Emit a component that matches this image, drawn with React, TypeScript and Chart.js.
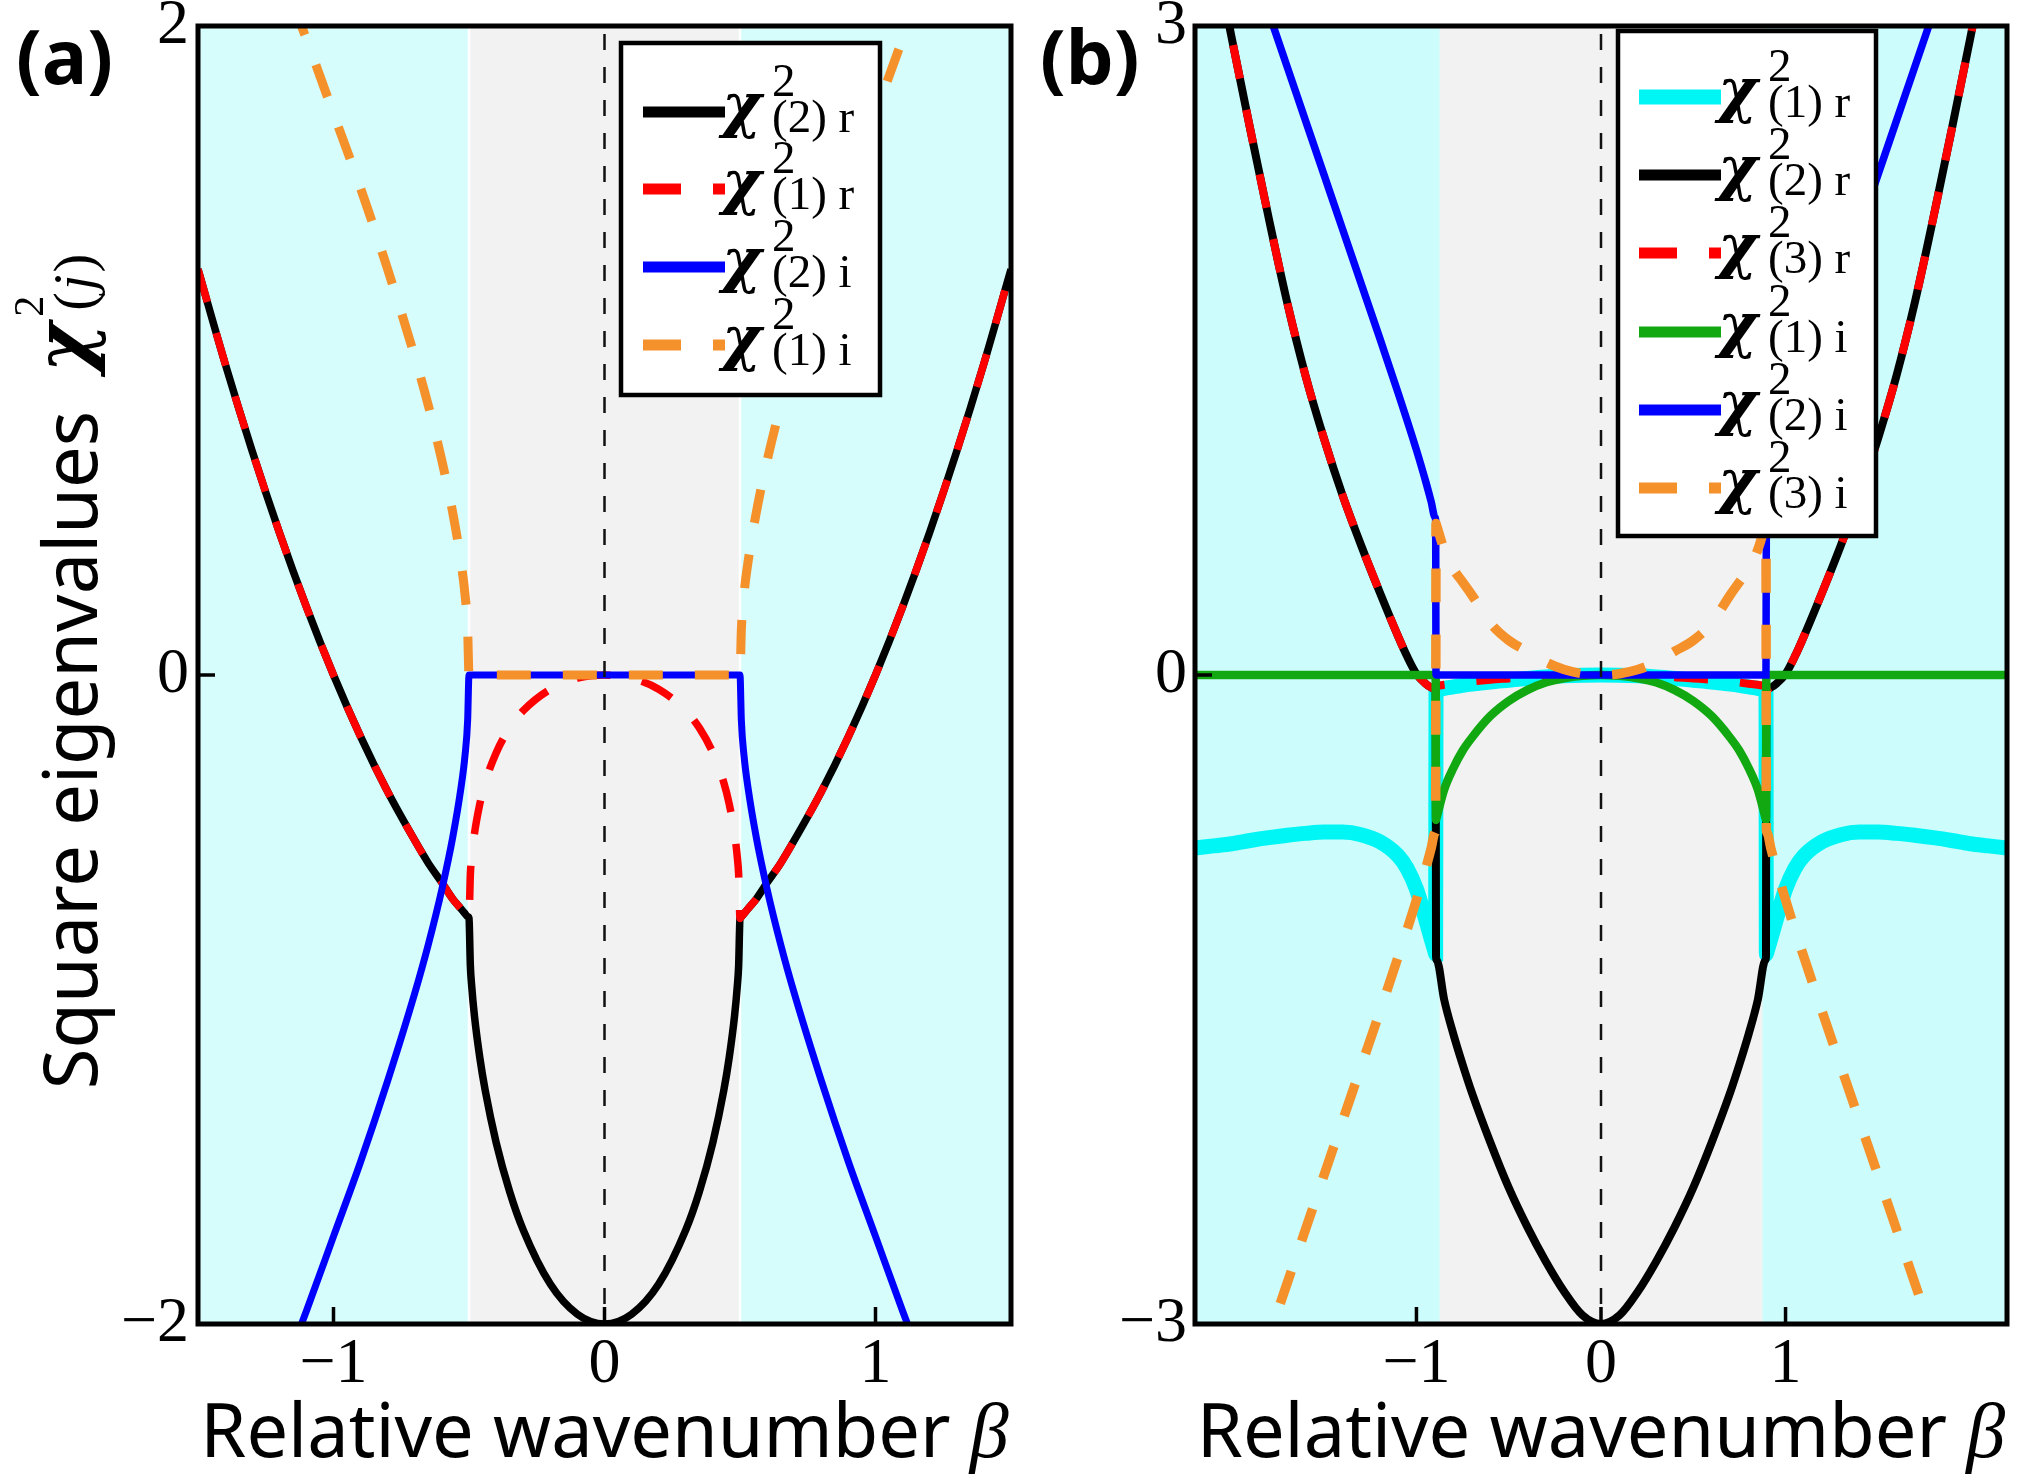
import React, { useEffect, useRef } from 'react';
import { Chart, registerables } from 'chart.js';

Chart.register(...registerables);

// ---------------- Panel (a) data ----------------
const betaA = [
  -1.5, -1.4, -1.3, -1.2, -1.1, -1.0, -0.9, -0.8, -0.7, -0.65, -0.6, -0.56, -0.53, -0.515, -0.505, -0.5,
  -0.495, -0.49, -0.48, -0.46, -0.44, -0.4, -0.35, -0.3, -0.2, -0.1, 0, 0.1, 0.2, 0.3, 0.35, 0.4, 0.44, 0.46, 0.48, 0.49, 0.495,
  0.5, 0.505, 0.515, 0.53, 0.56, 0.6, 0.65, 0.7, 0.8, 0.9, 1.0, 1.1, 1.2, 1.3, 1.4, 1.5,
];
const aChi2r = [
  1.25, 0.96, 0.69, 0.44, 0.21, 0.0, -0.19, -0.36, -0.51, -0.58, -0.64, -0.69, -0.72, -0.735, -0.745, -0.75,
  -0.896, -0.959, -1.05, -1.18, -1.281, -1.44, -1.592, -1.71, -1.877, -1.97, -2.0, -1.97, -1.877, -1.71, -1.592, -1.44, -1.281, -1.18, -1.05, -0.959, -0.896,
  -0.75, -0.745, -0.735, -0.72, -0.69, -0.64, -0.58, -0.51, -0.36, -0.19, 0.0, 0.21, 0.44, 0.69, 0.96, 1.25,
];
const aChi1r = [
  1.25, 0.96, 0.69, 0.44, 0.21, 0.0, -0.19, -0.36, -0.51, -0.58, -0.64, -0.69, -0.72, -0.735, -0.745, -0.75,
  -0.614, -0.561, -0.49, -0.397, -0.331, -0.24, -0.163, -0.11, -0.044, -0.01, 0, -0.01, -0.044, -0.11, -0.163, -0.24, -0.331, -0.397, -0.49, -0.561, -0.614,
  -0.75, -0.745, -0.735, -0.72, -0.69, -0.64, -0.58, -0.51, -0.36, -0.19, 0.0, 0.21, 0.44, 0.69, 0.96, 1.25,
];
const aChi2i = [
  -2.83, -2.62, -2.4, -2.18, -1.96, -1.73, -1.5, -1.25, -0.98, -0.83, -0.66, -0.5, -0.35, -0.25, -0.14, 0,
  0, 0, 0, 0, 0, 0, 0, 0, 0, 0, 0, 0, 0, 0, 0, 0, 0, 0, 0, 0, 0,
  0, -0.14, -0.25, -0.35, -0.5, -0.66, -0.83, -0.98, -1.25, -1.5, -1.73, -1.96, -2.18, -2.4, -2.62, -2.83,
];
const aChi1i = [
  2.83, 2.62, 2.4, 2.18, 1.96, 1.73, 1.5, 1.25, 0.98, 0.83, 0.66, 0.5, 0.35, 0.25, 0.14, 0,
  0, 0, 0, 0, 0, 0, 0, 0, 0, 0, 0, 0, 0, 0, 0, 0, 0, 0, 0, 0, 0,
  0, 0.14, 0.25, 0.35, 0.5, 0.66, 0.83, 0.98, 1.25, 1.5, 1.73, 1.96, 2.18, 2.4, 2.62, 2.83,
];
const aXTicks = [-1, 0, 1];
const aXTickLabels = ['\u22121', '0', '1'];
const aYTicks = [-2, 0, 2];
const aYTickLabels = ['\u22122', '0', '2'];
const aEdges = [-0.5, 0.5];

// ---------------- Panel (b) data ----------------
const betaB = [
  -2.2, -2.1, -2.0, -1.9, -1.8, -1.7, -1.6, -1.5, -1.4, -1.3, -1.2, -1.1, -1.05, -1.0, -0.95, -0.92, -0.9, -0.896,
  -0.894, -0.89, -0.85, -0.8, -0.75, -0.7, -0.6, -0.5, -0.4, -0.3, -0.2, -0.1, 0, 0.1, 0.2, 0.3, 0.4, 0.5, 0.6, 0.7, 0.75, 0.8, 0.85, 0.89, 0.894,
  0.896, 0.9, 0.92, 0.95, 1.0, 1.05, 1.1, 1.2, 1.3, 1.4, 1.5, 1.6, 1.7, 1.8, 1.9, 2.0, 2.1, 2.2,
];
const bChi1r = [
  -0.8, -0.79, -0.78, -0.765, -0.752, -0.741, -0.732, -0.726, -0.726, -0.738, -0.77, -0.835, -0.895, -0.99, -1.13, -1.22, -1.278, -1.29,
  -0.07, -0.069, -0.062, -0.055, -0.048, -0.042, -0.032, -0.024, -0.016, -0.009, -0.004, -0.001, 0, -0.001, -0.004, -0.009, -0.016, -0.024, -0.032, -0.042, -0.048, -0.055, -0.062, -0.069, -0.07,
  -1.29, -1.278, -1.22, -1.13, -0.99, -0.895, -0.835, -0.77, -0.738, -0.726, -0.726, -0.732, -0.741, -0.752, -0.765, -0.78, -0.79, -0.8,
];
const bChi2r = [
  3.81, 3.37, 2.94, 2.52, 2.11, 1.72, 1.38, 1.09, 0.83, 0.6, 0.385, 0.18, 0.085, 0.005, -0.04, -0.058, -0.064, -0.065,
  -1.3, -1.318, -1.5, -1.66, -1.8, -1.93, -2.16, -2.37, -2.55, -2.71, -2.85, -2.96, -3.0, -2.96, -2.85, -2.71, -2.55, -2.37, -2.16, -1.93, -1.8, -1.66, -1.5, -1.318, -1.3,
  -0.065, -0.064, -0.058, -0.04, 0.005, 0.085, 0.18, 0.385, 0.6, 0.83, 1.09, 1.38, 1.72, 2.11, 2.52, 2.94, 3.37, 3.81,
];
const bChi3r = [
  3.81, 3.37, 2.94, 2.52, 2.11, 1.72, 1.38, 1.09, 0.83, 0.6, 0.385, 0.18, 0.085, 0.005, -0.04, -0.058, -0.064, -0.065,
  -0.05, -0.05, -0.045, -0.04, -0.035, -0.03, -0.022, -0.016, -0.01, -0.006, -0.003, -0.001, 0, -0.001, -0.003, -0.006, -0.01, -0.016, -0.022, -0.03, -0.035, -0.04, -0.045, -0.05, -0.05,
  -0.065, -0.064, -0.058, -0.04, 0.005, 0.085, 0.18, 0.385, 0.6, 0.83, 1.09, 1.38, 1.72, 2.11, 2.52, 2.94, 3.37, 3.81,
];
const bChi1i = [
  0, 0, 0, 0, 0, 0, 0, 0, 0, 0, 0, 0, 0, 0, 0, 0, 0, 0,
  -0.67, -0.657, -0.53, -0.43, -0.35, -0.29, -0.19, -0.12, -0.07, -0.035, -0.015, -0.004, 0, -0.004, -0.015, -0.035, -0.07, -0.12, -0.19, -0.29, -0.35, -0.43, -0.53, -0.657, -0.67,
  0, 0, 0, 0, 0, 0, 0, 0, 0, 0, 0, 0, 0, 0, 0, 0, 0, 0,
];
const bChi2i = [
  4.06, 3.81, 3.56, 3.31, 3.06, 2.81, 2.56, 2.31, 2.06, 1.81, 1.56, 1.305, 1.175, 1.04, 0.895, 0.8, 0.73, 0.716,
  0, 0, 0, 0, 0, 0, 0, 0, 0, 0, 0, 0, 0, 0, 0, 0, 0, 0, 0, 0, 0, 0, 0, 0, 0,
  0.716, 0.73, 0.8, 0.895, 1.04, 1.175, 1.305, 1.56, 1.81, 2.06, 2.31, 2.56, 2.81, 3.06, 3.31, 3.56, 3.81, 4.06,
];
const bChi3i = [
  -4.06, -3.81, -3.56, -3.31, -3.06, -2.81, -2.56, -2.31, -2.06, -1.81, -1.56, -1.305, -1.175, -1.04, -0.895, -0.8, -0.73, -0.716,
  0.7, 0.689, 0.58, 0.49, 0.43, 0.37, 0.24, 0.16, 0.11, 0.06, 0.025, 0.006, 0, 0.006, 0.025, 0.06, 0.11, 0.16, 0.24, 0.37, 0.43, 0.49, 0.58, 0.689, 0.7,
  -0.716, -0.73, -0.8, -0.895, -1.04, -1.175, -1.305, -1.56, -1.81, -2.06, -2.31, -2.56, -2.81, -3.06, -3.31, -3.56, -3.81, -4.06,
];
const bXTicks = [-1, 0, 1];
const bXTickLabels = ['\u22121', '0', '1'];
const bYTicks = [-3, 0, 3];
const bYTickLabels = ['\u22123', '0', '3'];
const bEdges = [-0.875, 0.875];

// ---------------- styling / layout ----------------
const W = 2026;
const H = 1482;
const FRAME_TOP = 26;
const FRAME_BOTTOM = 1324;
const SERIF = '"Liberation Serif", "Times New Roman", serif';
const GREEK = '"DejaVu Serif", "Liberation Serif", serif';
const SANS = '"Noto Sans", "Open Sans", sans-serif';
const DASH = [34, 32];

const BLACK = '#000000';
const RED = '#ff0000';
const BLUE = '#0000ff';
const ORANGE = '#f5912a';
const GREEN = '#12a812';
const CYAN = '#00f5f5';

type Series = { data: { x: number; y: number }[]; color: string; width: number; dashed: boolean };
type Entry = { color: string; width: number; dashed: boolean; sub: string };
interface Panel {
  key: string;
  left: number;
  width: number;
  axisWidth: number;
  padRight: number;
  xMin: number; xMax: number; yMin: number; yMax: number;
  xTicks: number[]; xTickLabels: string[];
  yTicks: number[]; yTickLabels: string[];
  yTickPad: number;
  edges: number[];
  sideColor: string;
  edgeLines: boolean;
  label: string; labelX: number;
  legendBox: number[]; legendRows: number[]; legendLine: number[]; legendChiX: number;
  entries: Entry[];
  yTitle: boolean;
  series: Series[];
}

const pts = (xs: number[], ys: number[]) => xs.map((x, i) => ({ x, y: ys[i] }));

const panelA: Panel = {
  key: 'a', left: 0, width: 1030, axisWidth: 198, padRight: 19,
  xMin: -1.5, xMax: 1.5, yMin: -2, yMax: 2,
  xTicks: aXTicks, xTickLabels: aXTickLabels, yTicks: aYTicks, yTickLabels: aYTickLabels,
  yTickPad: 9,
  edges: aEdges, sideColor: '#d6fcfc', edgeLines: true,
  label: '(a)', labelX: 16,
  legendBox: [621, 43, 880, 395], legendRows: [112, 189, 267, 345], legendLine: [643, 725], legendChiX: 722,
  entries: [
    { color: BLACK, width: 11, dashed: false, sub: '(2) r' },
    { color: RED, width: 11, dashed: true, sub: '(1) r' },
    { color: BLUE, width: 11, dashed: false, sub: '(2) i' },
    { color: ORANGE, width: 11, dashed: true, sub: '(1) i' },
  ],
  yTitle: true,
  series: [
    { data: pts(betaA, aChi2r), color: BLACK, width: 7.5, dashed: false },
    { data: pts(betaA, aChi1r), color: RED, width: 7.5, dashed: true },
    { data: pts(betaA, aChi2i), color: BLUE, width: 7, dashed: false },
    { data: pts(betaA, aChi1i), color: ORANGE, width: 9, dashed: true },
  ],
};

const panelB: Panel = {
  key: 'b', left: 1030, width: 996, axisWidth: 165, padRight: 19,
  xMin: -2.2, xMax: 2.2, yMin: -3, yMax: 3,
  xTicks: bXTicks, xTickLabels: bXTickLabels, yTicks: bYTicks, yTickLabels: bYTickLabels,
  yTickPad: 8,
  edges: bEdges, sideColor: '#ccfcfc', edgeLines: false,
  label: '(b)', labelX: 1040,
  legendBox: [1618, 31, 1876, 536], legendRows: [97, 175, 253, 332, 410, 488], legendLine: [1639, 1721], legendChiX: 1718,
  entries: [
    { color: CYAN, width: 15, dashed: false, sub: '(1) r' },
    { color: BLACK, width: 11, dashed: false, sub: '(2) r' },
    { color: RED, width: 11, dashed: true, sub: '(3) r' },
    { color: GREEN, width: 11, dashed: false, sub: '(1) i' },
    { color: BLUE, width: 11, dashed: false, sub: '(2) i' },
    { color: ORANGE, width: 11, dashed: true, sub: '(3) i' },
  ],
  yTitle: false,
  series: [
    { data: pts(betaB, bChi1r), color: CYAN, width: 15, dashed: false },
    { data: pts(betaB, bChi2r), color: BLACK, width: 8, dashed: false },
    { data: pts(betaB, bChi3r), color: RED, width: 8, dashed: true },
    { data: pts(betaB, bChi1i), color: GREEN, width: 8.5, dashed: false },
    { data: pts(betaB, bChi2i), color: BLUE, width: 7.5, dashed: false },
    { data: pts(betaB, bChi3i), color: ORANGE, width: 9.5, dashed: true },
  ],
};

function labelFor(ticks: number[], labels: string[], v: number) {
  const i = ticks.findIndex((t) => Math.abs(t - v) < 1e-9);
  return i >= 0 ? labels[i] : '';
}

function drawChi(ctx: CanvasRenderingContext2D, x: number, y: number, size: number) {
  ctx.save();
  ctx.font = `italic bold ${size}px ${GREEK}`;
  ctx.fillStyle = '#000';
  ctx.textAlign = 'left';
  ctx.textBaseline = 'alphabetic';
  ctx.fillText('\u03C7', x, y);
  ctx.restore();
}

function drawLegend(ctx: CanvasRenderingContext2D, p: Panel) {
  const ox = p.left;
  const [bx0, by0, bx1, by1] = p.legendBox;
  ctx.save();
  ctx.setLineDash([]);
  ctx.fillStyle = '#ffffff';
  ctx.fillRect(bx0 - ox, by0, bx1 - bx0, by1 - by0);
  ctx.lineWidth = 4.5;
  ctx.strokeStyle = '#000';
  ctx.strokeRect(bx0 - ox, by0, bx1 - bx0, by1 - by0);
  p.entries.forEach((e, i) => {
    const y = p.legendRows[i];
    ctx.beginPath();
    ctx.strokeStyle = e.color;
    ctx.lineWidth = e.width;
    ctx.lineCap = 'butt';
    ctx.setLineDash(e.dashed ? [38, 32] : []);
    ctx.moveTo(p.legendLine[0] - ox, y);
    ctx.lineTo(p.legendLine[1] - ox, y);
    ctx.stroke();
    ctx.setLineDash([]);
    const cx = p.legendChiX - ox;
    drawChi(ctx, cx, y + 14, 60);
    ctx.fillStyle = '#000';
    ctx.textAlign = 'left';
    ctx.textBaseline = 'alphabetic';
    ctx.font = `47px ${SERIF}`;
    ctx.fillText('2', cx + 50, y - 16);
    ctx.fillText(e.sub, cx + 50, y + 20);
  });
  ctx.restore();
}

function drawYTitle(ctx: CanvasRenderingContext2D) {
  ctx.save();
  ctx.fillStyle = '#000';
  ctx.textAlign = 'left';
  ctx.textBaseline = 'alphabetic';
  const t = 'Square eigenvalues';
  ctx.font = `74px ${SANS}`;
  const w = ctx.measureText(t).width;
  const gap = 38;
  const total = w + gap + 118;
  const start = 672 + total / 2;
  ctx.translate(97, start);
  ctx.rotate(-Math.PI / 2);
  ctx.fillText(t, 0, 0);
  const cx = w + gap;
  drawChi(ctx, cx, -8, 76);
  ctx.fillStyle = '#000';
  ctx.font = `42px ${SERIF}`;
  ctx.fillText('2', cx + 56, -54);
  ctx.font = `56px ${SERIF}`;
  let x = cx + 62;
  ctx.fillText('(', x, -4);
  x += ctx.measureText('(').width;
  ctx.font = `italic 56px ${SERIF}`;
  ctx.fillText('j', x + 2, -4);
  x += ctx.measureText('j').width + 4;
  ctx.font = `56px ${SERIF}`;
  ctx.fillText(')', x, -4);
  ctx.restore();
}

function drawXTitle(ctx: CanvasRenderingContext2D, cx: number) {
  ctx.save();
  ctx.fillStyle = '#000';
  ctx.textAlign = 'left';
  ctx.textBaseline = 'alphabetic';
  const t = 'Relative wavenumber ';
  ctx.font = `74px ${SANS}`;
  const w1 = ctx.measureText(t).width;
  ctx.font = `italic 78px ${SERIF}`;
  const w2 = ctx.measureText('\u03B2').width;
  const x0 = cx - (w1 + w2) / 2;
  ctx.font = `74px ${SANS}`;
  ctx.fillText(t, x0, 1457);
  ctx.font = `italic 78px ${SERIF}`;
  ctx.fillText('\u03B2', x0 + w1, 1457);
  ctx.restore();
}

function makePlugin(p: Panel) {
  return {
    id: 'panelDecor' + p.key,
    beforeDatasetsDraw(chart: any) {
      const { ctx, chartArea: a, scales } = chart;
      const xs = scales.x;
      ctx.save();
      ctx.beginPath();
      ctx.rect(a.left, a.top, a.right - a.left, a.bottom - a.top);
      ctx.clip();
      ctx.fillStyle = p.sideColor;
      ctx.fillRect(a.left, a.top, a.right - a.left, a.bottom - a.top);
      const e0 = xs.getPixelForValue(p.edges[0]);
      const e1 = xs.getPixelForValue(p.edges[1]);
      ctx.fillStyle = '#f2f2f2';
      ctx.fillRect(e0, a.top, e1 - e0, a.bottom - a.top);
      if (p.edgeLines) {
        ctx.strokeStyle = '#ffffff';
        ctx.lineWidth = 2.5;
        [e0, e1].forEach((e) => {
          ctx.beginPath();
          ctx.moveTo(e, a.top);
          ctx.lineTo(e, a.bottom);
          ctx.stroke();
        });
      }
      ctx.restore();
    },
    afterDatasetsDraw(chart: any) {
      const { ctx, chartArea: a, scales } = chart;
      const x0 = scales.x.getPixelForValue(0);
      ctx.save();
      ctx.strokeStyle = '#111';
      ctx.lineWidth = 2.5;
      ctx.setLineDash([16, 17]);
      ctx.beginPath();
      ctx.moveTo(x0, a.top + 8);
      ctx.lineTo(x0, a.bottom);
      ctx.stroke();
      ctx.restore();
    },
    afterDraw(chart: any) {
      const { ctx, chartArea: a, scales } = chart;
      ctx.save();
      ctx.setLineDash([]);
      ctx.strokeStyle = '#000';
      ctx.lineWidth = 3.5;
      p.xTicks.forEach((v) => {
        const px = scales.x.getPixelForValue(v);
        ctx.beginPath();
        ctx.moveTo(px, a.bottom);
        ctx.lineTo(px, a.bottom - 17);
        ctx.stroke();
      });
      p.yTicks.forEach((v) => {
        const py = scales.y.getPixelForValue(v);
        ctx.beginPath();
        ctx.moveTo(a.left, py);
        ctx.lineTo(a.left + 17, py);
        ctx.stroke();
      });
      ctx.lineWidth = 5;
      ctx.strokeRect(a.left, a.top, a.right - a.left, a.bottom - a.top);
      ctx.restore();
      drawLegend(ctx, p);
      ctx.save();
      ctx.fillStyle = '#000';
      ctx.textAlign = 'left';
      ctx.textBaseline = 'alphabetic';
      ctx.font = `bold 76px ${SANS}`;
      ctx.fillText(p.label, p.labelX - p.left, 84);
      ctx.restore();
      drawXTitle(ctx, (a.left + a.right) / 2);
      if (p.yTitle) drawYTitle(ctx);
    },
  };
}

function PanelChart({ p }: { p: Panel }) {
  const ref = useRef<HTMLCanvasElement>(null);
  useEffect(() => {
    const canvas = ref.current;
    if (!canvas) return;
    const N = p.series.length;
    let alive = true;
    const chart = new Chart(canvas, {
      type: 'line',
      data: {
        datasets: p.series.map((s, i) => ({
          data: s.data,
          borderColor: s.color,
          backgroundColor: s.color,
          borderWidth: s.width,
          borderDash: s.dashed ? DASH : [],
          pointRadius: 0,
          pointHoverRadius: 0,
          fill: false,
          cubicInterpolationMode: 'monotone',
          clip: 0,
          order: N - i,
        })) as any,
      },
      options: {
        animation: false,
        responsive: false,
        maintainAspectRatio: false,
        devicePixelRatio: 1,
        events: [],
        layout: { padding: { left: 0, right: p.padRight, top: FRAME_TOP, bottom: 0 }, autoPadding: false },
        plugins: { legend: { display: false }, tooltip: { enabled: false }, title: { display: false } },
        scales: {
          x: {
            type: 'linear',
            min: p.xMin,
            max: p.xMax,
            grid: { display: false, drawTicks: false },
            border: { display: false },
            ticks: {
              autoSkip: false,
              maxRotation: 0,
              padding: 3,
              color: '#000',
              font: { family: SERIF, size: 64, lineHeight: 1.2 },
              callback: (v: any) => labelFor(p.xTicks, p.xTickLabels, Number(v)),
            },
            afterBuildTicks: (s: any) => { s.ticks = p.xTicks.map((v) => ({ value: v })); },
            afterFit: (s: any) => { s.height = H - FRAME_BOTTOM; s.paddingLeft = 0; s.paddingRight = 0; },
          },
          y: {
            type: 'linear',
            min: p.yMin,
            max: p.yMax,
            grid: { display: false, drawTicks: false },
            border: { display: false },
            ticks: {
              autoSkip: false,
              padding: p.yTickPad,
              color: '#000',
              font: { family: SERIF, size: 64, lineHeight: 1.2 },
              callback: (v: any) => labelFor(p.yTicks, p.yTickLabels, Number(v)),
            },
            afterBuildTicks: (s: any) => { s.ticks = p.yTicks.map((v) => ({ value: v })); },
            afterFit: (s: any) => { s.width = p.axisWidth; s.paddingTop = 0; s.paddingBottom = 0; },
          },
        },
      } as any,
      plugins: [makePlugin(p) as any],
    });
    const fonts = [`74px ${SANS}`, `bold 76px ${SANS}`, `64px ${SERIF}`, `italic 64px ${SERIF}`, `italic bold 60px ${GREEK}`];
    if ((document as any).fonts && (document as any).fonts.load) {
      Promise.all(fonts.map((f) => (document as any).fonts.load(f)))
        .then(() => { if (alive) chart.update('none'); })
        .catch(() => {});
    }
    return () => { alive = false; chart.destroy(); };
  }, [p]);
  return (
    <canvas
      ref={ref}
      width={p.width}
      height={H}
      style={{ position: 'absolute', left: p.left, top: 0, width: p.width, height: H, display: 'block' }}
    />
  );
}

export default function App() {
  return (
    <div style={{ position: 'absolute', left: 0, top: 0, width: W, height: H, background: '#ffffff', overflow: 'hidden' }}>
      <PanelChart p={panelA} />
      <PanelChart p={panelB} />
    </div>
  );
}
